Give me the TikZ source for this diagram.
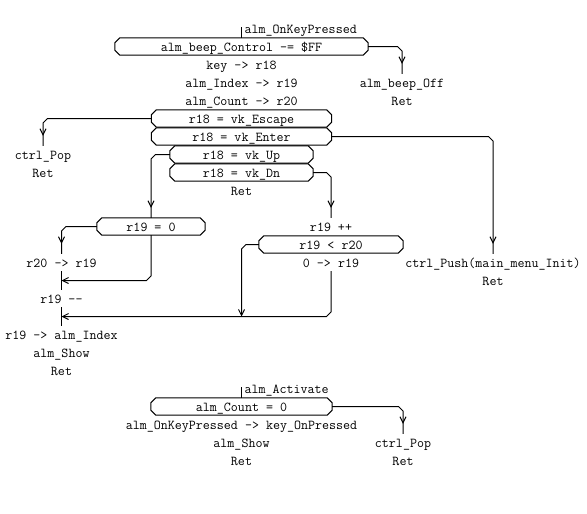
\documentclass[tikz,border=0pt]{standalone}
\usepackage{fontspec}
\usetikzlibrary{arrows.meta,calc,decorations.markings}
\begin{document}
\begin{tikzpicture}[x=1pt,y=-1pt,
  txt/.style={font=\ttfamily\fontsize{13.6pt}{16pt}\selectfont, inner sep=0pt, text height=13.5pt, text depth=3.5pt},
  box/.style={txt, minimum width=#1},
  conn/.style={line width=1pt},
  barb/.tip={Straight Barb[length=6pt,width=6pt,line width=1pt]},
  arrowat/.style={postaction={decorate}, decoration={markings, mark=at position #1 with {\arrow{barb}}}},
  boxline/.style={line width=1pt}]
\useasboundingbox (0,0) rectangle (587,514);
\fill[white] (0,0) rectangle (587,514);
% ---- alm_OnKeyPressed ----
\node[txt, anchor=west] (lab1) at (244.5,28.5) {alm\_OnKeyPressed};
\node[box=253pt] (b1) at (241.5,46.5) {alm\_beep\_Control -= \$FF};
\node[txt] (tkey) at (241.5,64.5) {key -> r18};
\node[txt] (tidx) at (241.5,82.5) {alm\_Index -> r19};
\node[txt] (tcnt) at (241.5,100.5) {alm\_Count -> r20};
\node[box=180pt] (esc) at (241.5,118.5) {r18 = vk\_Escape};
\node[box=180pt] (ent) at (241.5,136.5) {r18 = vk\_Enter};
\node[box=143pt] (up) at (241.5,154.5) {r18 = vk\_Up};
\node[box=143pt] (dn) at (241.5,172.5) {r18 = vk\_Dn};
\node[txt] (ret1) at (241.5,190.5) {Ret};
\node[txt] (beepoff) at (402,82.5) {alm\_beep\_Off};
\node[txt] (ret2) at (402,100.5) {Ret};
\node[txt] (pop1) at (43,154.5) {ctrl\_Pop};
\node[txt] (ret3) at (43,172.5) {Ret};
\node[txt] (push) at (493,262.5) {ctrl\_Push(main\_menu\_Init)};
\node[txt] (ret4) at (493,280.5) {Ret};
\node[box=108pt] (r0) at (151,226.5) {r19 = 0};
\node[txt] (r20) at (61.5,262.5) {r20 -> r19};
\node[txt] (rmm) at (61.5,298.5) {r19 -{}-};
\node[txt] (ridx) at (61.5,334.5) {r19 -> alm\_Index};
\node[txt] (show1) at (61.5,352.5) {alm\_Show};
\node[txt] (ret5) at (61.5,370.5) {Ret};
\node[txt] (rpp) at (331,226.5) {r19 ++};
\node[box=144pt] (rlt) at (331,244.5) {r19 < r20};
\node[txt] (r0b) at (331,262.5) {0 -> r19};
\coordinate (j1) at ($(r20.south)!0.5!(rmm.north)$);
\coordinate (j2) at ($(rmm.south)!0.5!(ridx.north)$);
\coordinate (j3) at (ret1 |- j2);
% ---- alm_Activate ----
\node[txt, anchor=west] (lab2) at (244.5,388.5) {alm\_Activate};
\node[box=181pt] (b2) at (241.5,406.5) {alm\_Count = 0};
\node[txt] (okp) at (241.5,424.5) {alm\_OnKeyPressed -> key\_OnPressed};
\node[txt] (show2) at (241.5,442.5) {alm\_Show};
\node[txt] (ret6) at (241.5,460.5) {Ret};
\node[txt] (pop2) at (403,442.5) {ctrl\_Pop};
\node[txt] (ret7) at (403,460.5) {Ret};
% ---- boxes ----
\foreach \n in {b1,esc,ent,up,dn,r0,rlt,b2} {
  \draw[boxline] ([xshift=5pt]\n.north west) -- ([xshift=-5pt]\n.north east) -- ([yshift=-5pt]\n.north east)
    -- ([yshift=5pt]\n.south east) -- ([xshift=-5pt]\n.south east) -- ([xshift=5pt]\n.south west)
    -- ([yshift=5pt]\n.south west) -- ([yshift=-5pt]\n.north west) -- cycle;
}
% ---- connectors ----
\draw[conn] (b1.north) -- ($(b1.north)+(0,-11)$);
\draw[conn,arrowat=-10pt] (b1.east) -- ($(b1.east -| beepoff.north)+(-4.5,0)$) -- ($(b1.east -| beepoff.north)+(0,4.5)$) -- (beepoff.north);
\draw[conn,arrowat=-10pt] (esc.west) -- ($(esc.west -| pop1.north)+(4.5,0)$) -- ($(esc.west -| pop1.north)+(0,4.5)$) -- (pop1.north);
\draw[conn,arrowat=-10pt] (ent.east) -- ($(ent.east -| push.north)+(-4.5,0)$) -- ($(ent.east -| push.north)+(0,4.5)$) -- (push.north);
\draw[conn,arrowat=-10pt] (up.west) -- ($(up.west -| r0.north)+(4.5,0)$) -- ($(up.west -| r0.north)+(0,4.5)$) -- (r0.north);
\draw[conn,arrowat=-10pt] (dn.east) -- ($(dn.east -| rpp.north)+(-4.5,0)$) -- ($(dn.east -| rpp.north)+(0,4.5)$) -- (rpp.north);
\draw[conn,arrowat=-10pt] (r0.west) -- ($(r0.west -| r20.north)+(4.5,0)$) -- ($(r0.west -| r20.north)+(0,4.5)$) -- (r20.north);
\draw[conn,-{barb}] (r0.south) -- ($(r0.south |- j1)+(0,-4.5)$) -- ($(r0.south |- j1)+(-4.5,0)$) -- (j1);
\draw[conn] (r20.south) -- (rmm.north);
\draw[conn] (rmm.south) -- (ridx.north);
\draw[conn,-{barb}] (r0b.south) -- ($(r0b.south |- j2)+(0,-4.5)$) -- ($(r0b.south |- j2)+(-4.5,0)$) -- (j2);
\draw[conn,-{barb}] (rlt.west) -- ($(rlt.west -| j3)+(4.5,0)$) -- ($(rlt.west -| j3)+(0,4.5)$) -- (j3);
\draw[conn] (b2.north) -- ($(b2.north)+(0,-11)$);
\draw[conn,arrowat=-10pt] (b2.east) -- ($(b2.east -| pop2.north)+(-4.5,0)$) -- ($(b2.east -| pop2.north)+(0,4.5)$) -- (pop2.north);
\end{tikzpicture}
\end{document}
